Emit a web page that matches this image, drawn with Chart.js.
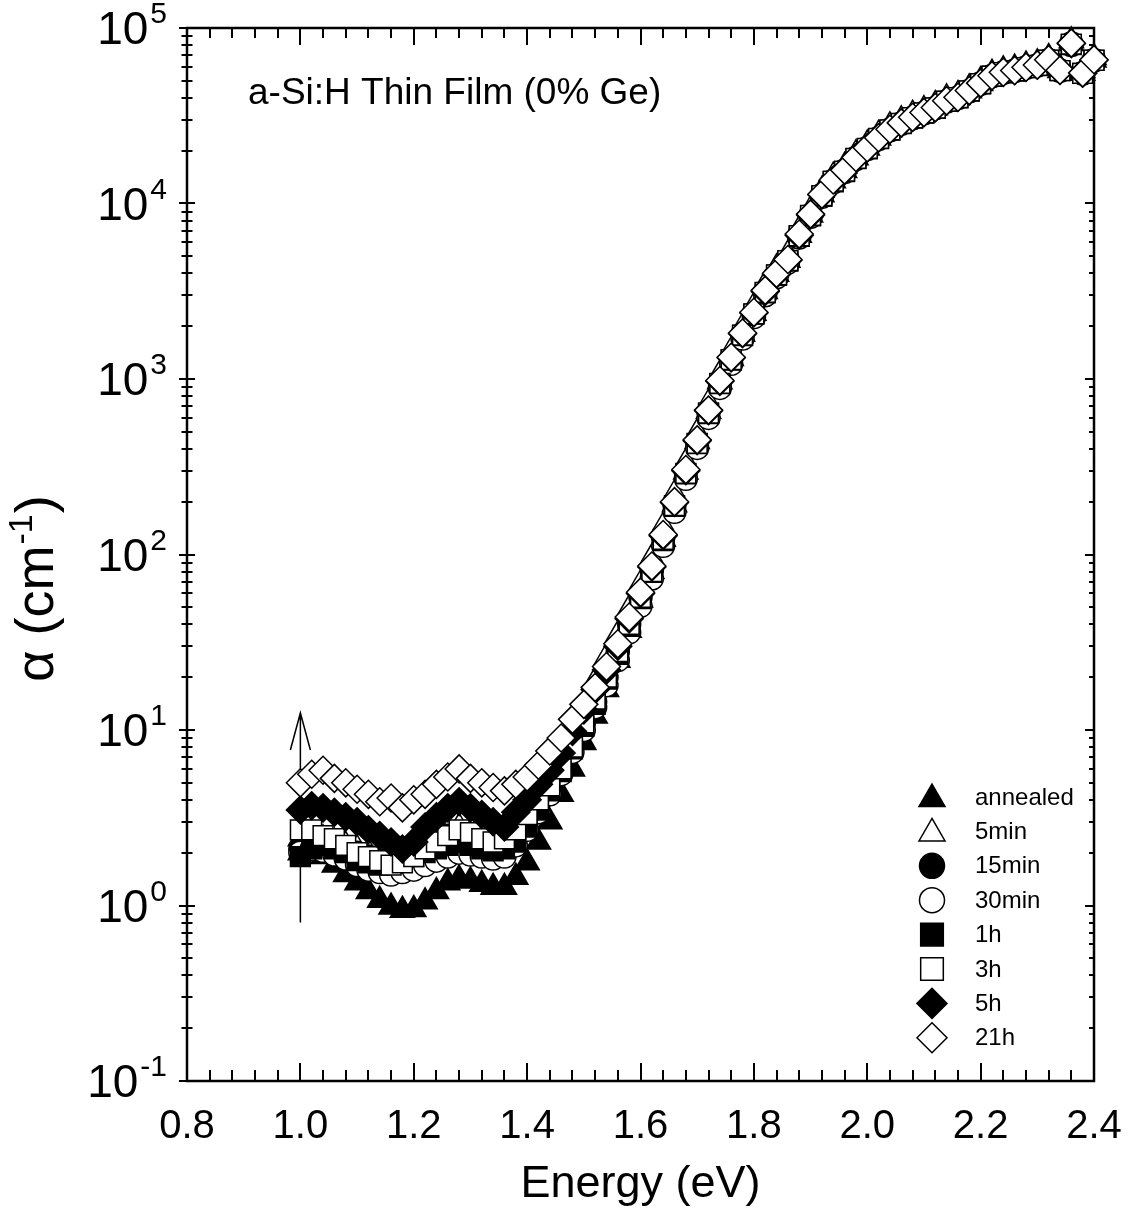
<!DOCTYPE html>
<html>
<head>
<meta charset="utf-8">
<script src="https://cdn.jsdelivr.net/npm/chart.js@4.4.0/dist/chart.umd.min.js"></script>
<style>
  html, body { margin: 0; padding: 0; background: #fff; }
</style>
</head>
<body>
<canvas id="alpha-chart" width="1138" height="1225"></canvas>
<script>
// photon energy (eV), one point every 0.02 eV
const energy = [1.00, 1.02, 1.04, 1.06, 1.08, 1.10, 1.12, 1.14, 1.16, 1.18, 1.20, 1.22, 1.24, 1.26, 1.28, 1.30, 1.32, 1.34, 1.36, 1.38, 1.40, 1.42, 1.44, 1.46, 1.48,
  1.50, 1.52, 1.54, 1.56, 1.58, 1.60, 1.62, 1.64, 1.66, 1.68, 1.70, 1.72, 1.74, 1.76, 1.78, 1.80, 1.82, 1.84, 1.86, 1.88, 1.90, 1.92, 1.94, 1.96, 1.98,
  2.00, 2.02, 2.04, 2.06, 2.08, 2.10, 2.12, 2.14, 2.16, 2.18, 2.20, 2.22, 2.24, 2.26, 2.28, 2.30, 2.32, 2.34, 2.36, 2.38, 2.40];

// absorption coefficient alpha (cm^-1) for each light-soaking time
const annealed = [2.0, 2.0, 1.9, 1.7, 1.5, 1.35, 1.2, 1.07, 0.98, 0.94, 0.95, 1.05, 1.2, 1.35, 1.42, 1.38, 1.32, 1.27, 1.27, 1.45, 1.75, 2.3, 3.0, 4.3, 6.0,
  8.5, 12, 17, 25, 37, 55, 80, 122, 192, 295, 440, 655, 965, 1310, 1800, 2370, 3150, 3950, 4750, 6600, 8600, 11200, 13500, 15400, 18200,
  20700, 23600, 26400, 28700, 30900, 32900, 35100, 38400, 40200, 43900, 48300, 53300, 55800, 57100, 59600, 61300, 65700, 57300, 81500, 55300, 65700];
const min5 = [2.4, 2.5, 2.4, 2.3, 2.2, 2.1, 2.0, 1.9, 1.85, 1.9, 2.0, 2.2, 2.4, 2.6, 2.8, 2.7, 2.55, 2.4, 2.5, 2.9, 3.5, 4.4, 5.6, 7.5, 10,
  14, 19, 26, 35, 49, 68, 96, 145, 222, 335, 495, 730, 1070, 1450, 1980, 2600, 3450, 4300, 5150, 7100, 9200, 11900, 14300, 16300, 19200,
  21800, 24800, 27700, 30000, 32300, 34300, 36600, 40000, 41800, 45600, 50200, 55300, 57800, 59100, 61600, 63300, 68000, 59200, 84500, 57200, 68000];
const min15 = [2.1, 2.3, 2.3, 2.2, 2.1, 2.0, 1.9, 1.8, 1.8, 1.9, 2.0, 2.2, 2.4, 2.5, 2.6, 2.5, 2.35, 2.2, 2.3, 2.6, 3.1, 3.8, 4.7, 6.0, 8.0,
  11, 14.5, 20, 28, 40, 57, 81, 124, 193, 295, 438, 650, 960, 1305, 1800, 2370, 3150, 3950, 4750, 6600, 8600, 11200, 13500, 15400, 18200,
  20700, 23600, 26400, 28700, 30900, 32900, 35100, 38400, 40200, 43900, 48400, 53400, 55900, 57200, 59700, 61400, 65800, 57400, 81800, 55400, 65800];
const min30 = [2.0, 2.1, 2.05, 1.95, 1.85, 1.7, 1.6, 1.55, 1.5, 1.55, 1.6, 1.7, 1.8, 1.9, 2.0, 1.95, 1.9, 1.85, 1.9, 2.2, 2.7, 3.4, 4.3, 5.6, 7.5,
  10, 13.5, 18, 25, 36, 51, 73, 112, 175, 270, 405, 600, 890, 1220, 1700, 2250, 3000, 3800, 4600, 6400, 8400, 10900, 13200, 15100, 17900,
  20400, 23300, 26100, 28400, 30600, 32600, 34800, 38100, 39900, 43600, 48000, 53000, 55500, 56800, 59300, 61000, 65200, 57000, 80000, 55000, 65200];
const h1 = [1.9, 2.1, 2.2, 2.1, 2.0, 1.8, 1.75, 1.7, 1.75, 1.85, 1.9, 2.0, 2.1, 2.2, 2.3, 2.2, 2.1, 2.05, 2.1, 2.3, 2.8, 3.5, 4.5, 5.8, 7.8,
  10.5, 14, 19.5, 27, 39, 56, 79, 120, 188, 288, 428, 635, 940, 1280, 1770, 2340, 3100, 3900, 4700, 6500, 8500, 11000, 13300, 15200, 18000,
  20500, 23400, 26200, 28500, 30700, 32700, 34900, 38200, 40000, 43700, 48100, 53100, 55600, 56900, 59400, 61100, 65400, 57100, 80500, 55100, 65400];
const h3 = [2.7, 2.7, 2.5, 2.4, 2.2, 2.0, 1.9, 1.8, 1.7, 1.75, 1.9, 2.1, 2.3, 2.5, 2.7, 2.6, 2.4, 2.3, 2.4, 2.7, 3.3, 4.0, 4.8, 6.0, 8.0,
  11, 15, 20, 28, 40, 57, 80, 122, 190, 290, 430, 640, 945, 1290, 1780, 2350, 3120, 3920, 4720, 6550, 8550, 11100, 13400, 15300, 18100,
  20600, 23500, 26300, 28600, 30800, 32800, 35000, 38300, 40100, 43800, 48200, 53200, 55700, 57000, 59500, 61200, 65500, 57200, 81000, 55200, 65500];
const h5 = [3.5, 3.7, 3.6, 3.4, 3.2, 3.0, 2.7, 2.5, 2.3, 2.1, 2.3, 2.8, 3.2, 3.6, 3.9, 3.6, 3.3, 3.0, 2.8, 3.4, 4.0, 4.9, 5.9, 7.4, 9.8,
  13, 17, 22, 30, 43, 60, 85, 128, 198, 300, 445, 660, 970, 1320, 1810, 2380, 3150, 3950, 4750, 6600, 8600, 11200, 13500, 15400, 18200,
  20700, 23600, 26400, 28700, 30900, 32900, 35100, 38400, 40200, 43900, 48300, 53300, 55800, 57100, 59600, 61300, 65700, 57300, 81500, 55300, 65700];
const h21 = [5.0, 5.6, 5.9, 5.3, 5.0, 4.6, 4.3, 3.9, 4.1, 3.6, 4.0, 4.3, 4.9, 5.4, 6.0, 5.3, 5.0, 4.7, 4.5, 4.9, 5.4, 6.3, 7.6, 9.0, 11.5,
  14, 17.5, 23, 31, 44, 61, 86, 130, 200, 305, 450, 665, 980, 1330, 1830, 2400, 3200, 4000, 4800, 6700, 8700, 11300, 13600, 15500, 18300,
  20800, 23700, 26500, 28800, 31000, 33000, 35200, 38500, 40300, 44000, 48500, 53500, 56000, 57300, 59800, 61500, 66000, 57500, 82000, 55500, 66000];

const seriesNames = ["annealed", "5min", "15min", "30min", "1h", "3h", "5h", "21h"];
const seriesValues = [annealed, min5, min15, min30, h1, h3, h5, h21];

const xTickValues = [0.8, 1.0, 1.2, 1.4, 1.6, 1.8, 2.0, 2.2, 2.4];
const xTickLabels = ["0.8", "1.0", "1.2", "1.4", "1.6", "1.8", "2.0", "2.2", "2.4"];
const yTickExponents = ["-1", "0", "1", "2", "3", "4", "5"];

const titleText = "a-Si:H Thin Film (0% Ge)";
// arrow at 1.0 eV marking the rise of the sub-gap absorption
const arrowEnergy = 1.0;
const arrowFrom = 0.8;
const arrowTo = 12.5;

const FONT = "'Liberation Sans', Arial, Helvetica, sans-serif";
const ink = "#000";

const markerStyles = [
  { pointStyle: "triangle", fill: "#000", r: 14 },
  { pointStyle: "triangle", fill: "#fff", r: 14 },
  { pointStyle: "circle", fill: "#000", r: 11.5 },
  { pointStyle: "circle", fill: "#fff", r: 11.5 },
  { pointStyle: "rect", fill: "#000", r: 14 },
  { pointStyle: "rect", fill: "#fff", r: 14 },
  { pointStyle: "rectRot", fill: "#000", r: 14 },
  { pointStyle: "rectRot", fill: "#fff", r: 14 }
];

const datasets = seriesValues.map((vals, i) => ({
  label: seriesNames[i],
  data: energy.map((e, j) => ({ x: e, y: vals[j] })),
  showLine: false,
  pointStyle: markerStyles[i].pointStyle,
  pointRadius: markerStyles[i].r,
  pointHoverRadius: markerStyles[i].r,
  pointBackgroundColor: markerStyles[i].fill,
  pointBorderColor: ink,
  pointBorderWidth: 1.5,
  clip: false,
  order: 8 - i
}));

function drawMarker(ctx, style, x, y, r) {
  ctx.fillStyle = style.fill;
  ctx.strokeStyle = ink;
  ctx.lineWidth = 1.5;
  if (Chart.helpers && Chart.helpers.drawPoint) {
    Chart.helpers.drawPoint(ctx, { pointStyle: style.pointStyle, radius: r, borderWidth: 1.5, rotation: 0 }, x, y);
    return;
  }
  ctx.beginPath();
  ctx.arc(x, y, r, 0, Math.PI * 2);
  ctx.fill();
  ctx.stroke();
}

const framePlugin = {
  id: "framePlugin",
  beforeDatasetsDraw(chart) {
    const { ctx, chartArea: a, scales: { x, y } } = chart;
    ctx.save();
    ctx.strokeStyle = ink;
    ctx.lineWidth = 2.5;
    ctx.strokeRect(a.left, a.top, a.right - a.left, a.bottom - a.top);

    ctx.lineWidth = 2;
    ctx.beginPath();
    for (let i = 0; i <= 40; i++) {
      const px = Math.round(x.getPixelForValue(0.8 + i * 0.04));
      const major = i % 5 === 0;
      ctx.moveTo(px, a.bottom);
      ctx.lineTo(px, a.bottom - (major ? 18 : 11));
      ctx.moveTo(px, a.top);
      ctx.lineTo(px, a.top + (major ? 17 : 10));
    }
    for (let e = -1; e <= 5; e++) {
      for (let k = 1; k <= 9; k++) {
        if (e === 5 && k > 1) break;
        const py = Math.round(y.getPixelForValue(k * Math.pow(10, e)));
        const major = k === 1;
        const half = major ? 8 : 5.5;
        ctx.moveTo(a.left - half, py);
        ctx.lineTo(a.left + half, py);
        ctx.moveTo(a.right, py);
        ctx.lineTo(a.right - (major ? 9 : 5), py);
      }
    }
    ctx.stroke();

    // arrow
    const ax = x.getPixelForValue(arrowEnergy);
    const ay0 = y.getPixelForValue(arrowFrom);
    const ay1 = y.getPixelForValue(arrowTo);
    ctx.lineWidth = 1.5;
    ctx.beginPath();
    ctx.moveTo(ax, ay0);
    ctx.lineTo(ax, ay1);
    ctx.moveTo(ax - 10, ay1 + 37);
    ctx.lineTo(ax, ay1);
    ctx.lineTo(ax + 10, ay1 + 37);
    ctx.stroke();
    ctx.restore();
  },
  afterDraw(chart) {
    const { ctx, chartArea: a, scales: { x, y } } = chart;
    ctx.save();
    ctx.fillStyle = ink;

    // x tick labels
    ctx.font = `40px ${FONT}`;
    ctx.textAlign = "center";
    ctx.textBaseline = "alphabetic";
    xTickValues.forEach((v, i) => {
      ctx.fillText(xTickLabels[i], x.getPixelForValue(v), a.bottom + 57);
    });

    // x title
    ctx.font = `45px ${FONT}`;
    ctx.fillText("Energy (eV)", (a.left + a.right) / 2, a.bottom + 116);

    // y tick labels as 10 with superscript
    const labelRight = a.left - 20;
    yTickExponents.forEach((ex) => {
      const py = y.getPixelForValue(Math.pow(10, Number(ex)));
      ctx.textAlign = "right";
      ctx.font = `30px ${FONT}`;
      const ew = ctx.measureText(ex).width;
      ctx.fillText(ex, labelRight, py - 5);
      ctx.font = `46px ${FONT}`;
      ctx.fillText("10", labelRight - ew - 2, py + 16);
    });

    // y title, rotated, with superscript -1
    ctx.save();
    ctx.translate(53, (a.top + a.bottom) / 2 + 35);
    ctx.rotate(-Math.PI / 2);
    ctx.textAlign = "left";
    const big = `54px ${FONT}`, small = `34px ${FONT}`;
    ctx.font = big;
    const p1 = "\u03b1 (cm", p3 = ")";
    const w1 = ctx.measureText(p1).width, w3 = ctx.measureText(p3).width;
    ctx.font = small;
    const w2 = ctx.measureText("-1").width;
    const start = -(w1 + w2 + w3) / 2;
    ctx.font = big;
    ctx.fillText(p1, start, 0);
    ctx.font = small;
    ctx.fillText("-1", start + w1 + 1, -21);
    ctx.font = big;
    ctx.fillText(p3, start + w1 + w2 + 2, 0);
    ctx.restore();

    // title inside plot
    ctx.textAlign = "left";
    ctx.font = `37px ${FONT}`;
    ctx.fillText(titleText, a.left + 61, a.top + 76);

    // legend
    const lx = a.right - 162, ly = a.bottom - 284, step = 34.4;
    seriesNames.forEach((name, i) => {
      const cy = ly + i * step;
      const st = markerStyles[i];
      const r = st.pointStyle === "circle" ? 12.5 : st.pointStyle === "rect" ? 16 : 15;
      drawMarker(ctx, st, lx, cy + (st.pointStyle === "triangle" ? 2 : 0), r);
      ctx.fillStyle = ink;
      ctx.font = `24px ${FONT}`;
      ctx.textAlign = "left";
      ctx.textBaseline = "middle";
      ctx.fillText(name, lx + 43, cy + 1);
      ctx.textBaseline = "alphabetic";
    });
    ctx.restore();
  }
};

new Chart("alpha-chart", {
  type: "scatter",
  data: { datasets: datasets },
  options: {
    responsive: false,
    animation: false,
    devicePixelRatio: 1,
    layout: { padding: { top: 28, right: 44, left: 0, bottom: 0 } },
    plugins: { legend: { display: false }, tooltip: { enabled: false } },
    scales: {
      x: {
        type: "linear",
        min: 0.8,
        max: 2.4,
        grid: { display: false, drawTicks: false },
        border: { display: false },
        ticks: { display: false },
        afterFit: (s) => { s.height = 144; }
      },
      y: {
        type: "logarithmic",
        min: 0.1,
        max: 100000,
        grid: { display: false, drawTicks: false },
        border: { display: false },
        ticks: { display: false },
        afterFit: (s) => { s.width = 187; }
      }
    }
  },
  plugins: [framePlugin]
});
</script>
</body>
</html>
